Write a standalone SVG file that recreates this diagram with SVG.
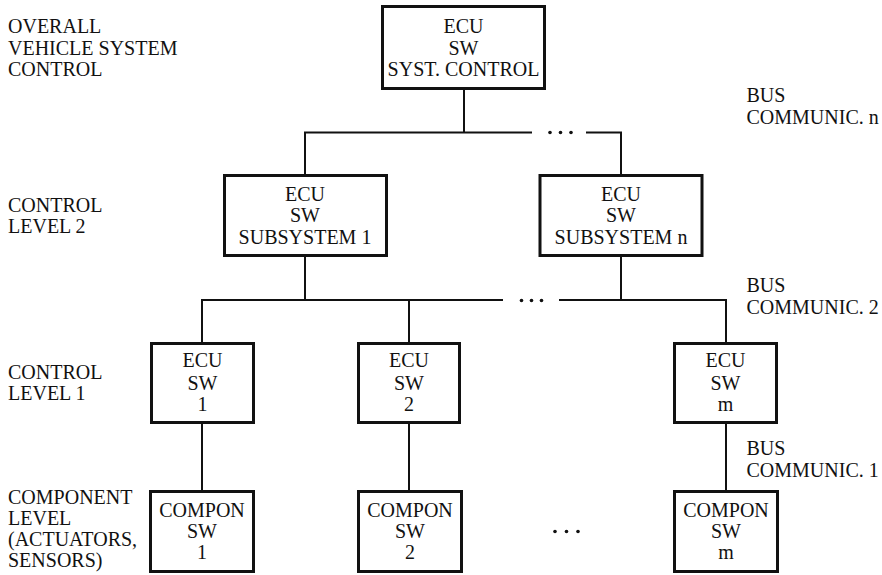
<svg xmlns="http://www.w3.org/2000/svg" width="882" height="575" viewBox="0 0 882 575">
  <style>
    text { font-family: "Liberation Serif", "Times New Roman", serif; font-size: 20px; fill: #111; }
    .c { text-anchor: middle; }
    .box { fill: #fff; stroke: #111; stroke-width: 3; }
    .wire { fill: none; stroke: #111; stroke-width: 2; }
    .dot { fill: #111; }
  </style>

  <!-- level captions -->
  <g id="captions">
    <text x="8" y="32.5">OVERALL</text>
    <text x="8" y="54.5">VEHICLE SYSTEM</text>
    <text x="8" y="76">CONTROL</text>

    <text x="8" y="211.5">CONTROL</text>
    <text x="8" y="233">LEVEL 2</text>

    <text x="8" y="378.5">CONTROL</text>
    <text x="8" y="400">LEVEL 1</text>

    <text x="8" y="503.5">COMPONENT</text>
    <text x="8" y="524.5">LEVEL</text>
    <text x="8" y="546">(ACTUATORS,</text>
    <text x="8" y="567">SENSORS)</text>

    <text x="746.5" y="101.5">BUS</text>
    <text x="746.5" y="123.5">COMMUNIC. n</text>
    <text x="746.5" y="291.5">BUS</text>
    <text x="746.5" y="313.5">COMMUNIC. 2</text>
    <text x="746.5" y="455">BUS</text>
    <text x="746.5" y="477">COMMUNIC. 1</text>
  </g>

  <!-- bus lines -->
  <g id="connectors">
    <!-- bus n -->
    <path class="wire" d="M464 89 V132.5 M305 174 V132.5 H532 M586 132.5 H621 V174"/>
    <circle class="dot" cx="550" cy="132.5" r="1.8"/>
    <circle class="dot" cx="560.5" cy="132.5" r="1.8"/>
    <circle class="dot" cx="571" cy="132.5" r="1.8"/>
    <!-- bus 2 -->
    <path class="wire" d="M305 257 V300 M621 257 V300 M202 342 V300 H503 M559 300 H726 V342 M409 300 V342"/>
    <circle class="dot" cx="521.5" cy="300.5" r="1.8"/>
    <circle class="dot" cx="531.5" cy="300.5" r="1.8"/>
    <circle class="dot" cx="541.5" cy="300.5" r="1.8"/>
    <!-- bus 1 -->
    <path class="wire" d="M202 424 V490 M409 424 V490 M726 424 V490"/>
    <circle class="dot" cx="555" cy="531.5" r="1.8"/>
    <circle class="dot" cx="566.5" cy="531.5" r="1.8"/>
    <circle class="dot" cx="578" cy="531.5" r="1.8"/>
  </g>

  <g id="ecu-syst-control">
    <rect class="box" x="382.5" y="6.5" width="162" height="82"/>
    <text class="c" x="463.5" y="32.5">ECU</text>
    <text class="c" x="463.5" y="55">SW</text>
    <text class="c" x="463.5" y="76">SYST. CONTROL</text>
  </g>

  <g id="ecu-subsystem-1">
    <rect class="box" x="224.5" y="175.5" width="162" height="80"/>
    <text class="c" x="305" y="200.5">ECU</text>
    <text class="c" x="305" y="222">SW</text>
    <text class="c" x="305" y="243.5">SUBSYSTEM 1</text>
  </g>

  <g id="ecu-subsystem-n">
    <rect class="box" x="540" y="175.5" width="162" height="80"/>
    <text class="c" x="621" y="200.5">ECU</text>
    <text class="c" x="621" y="222">SW</text>
    <text class="c" x="621" y="243.5">SUBSYSTEM n</text>
  </g>

  <g id="ecu-sw-1">
    <rect class="box" x="151.5" y="343.5" width="102" height="79"/>
    <text class="c" x="202.5" y="367">ECU</text>
    <text class="c" x="202.5" y="389.5">SW</text>
    <text class="c" x="202.5" y="411">1</text>
  </g>

  <g id="ecu-sw-2">
    <rect class="box" x="358.5" y="343.5" width="101" height="79"/>
    <text class="c" x="409" y="367">ECU</text>
    <text class="c" x="409" y="389.5">SW</text>
    <text class="c" x="409" y="411">2</text>
  </g>

  <g id="ecu-sw-m">
    <rect class="box" x="674.5" y="343.5" width="102" height="79"/>
    <text class="c" x="725.5" y="367">ECU</text>
    <text class="c" x="725.5" y="389.5">SW</text>
    <text class="c" x="725.5" y="411">m</text>
  </g>

  <g id="compon-sw-1">
    <rect class="box" x="150.5" y="491.5" width="103" height="80"/>
    <text class="c" x="202" y="516.5">COMPON</text>
    <text class="c" x="202" y="537.5">SW</text>
    <text class="c" x="202" y="558.5">1</text>
  </g>

  <g id="compon-sw-2">
    <rect class="box" x="358.5" y="491.5" width="103" height="80"/>
    <text class="c" x="410" y="516.5">COMPON</text>
    <text class="c" x="410" y="537.5">SW</text>
    <text class="c" x="410" y="558.5">2</text>
  </g>

  <g id="compon-sw-m">
    <rect class="box" x="674.5" y="491.5" width="103" height="80"/>
    <text class="c" x="726" y="516.5">COMPON</text>
    <text class="c" x="726" y="537.5">SW</text>
    <text class="c" x="726" y="558.5">m</text>
  </g>
</svg>
